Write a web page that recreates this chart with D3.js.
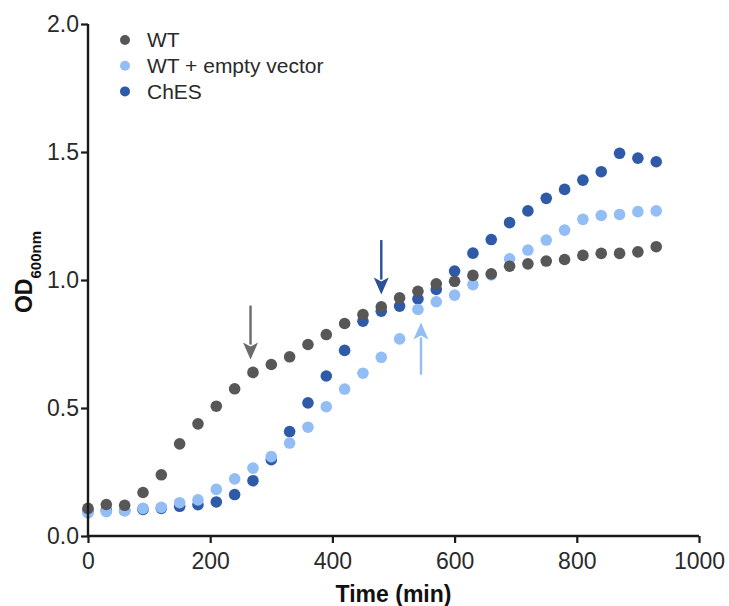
<!DOCTYPE html>
<html>
<head>
<meta charset="utf-8">
<script src="https://cdn.jsdelivr.net/npm/d3@7"></script>
<style>
  body { margin: 0; background: #fff; }
  text { font-family: "Liberation Sans", Arial, sans-serif; }
</style>
</head>
<body>
<div id="growth-chart"></div>
<script>
// sampling times (min), one reading every 30 min
const times = [0, 30, 60, 90, 120, 150, 180, 210, 240, 270, 300, 330, 360, 390, 420, 450,
    480, 510, 540, 570, 600, 630, 660, 690, 720, 750, 780, 810, 840, 870, 900, 930];

const wtValues = [0.108, 0.123, 0.120, 0.170, 0.239, 0.360, 0.438, 0.507, 0.575, 0.639, 0.670,
    0.700, 0.748, 0.787, 0.830, 0.865, 0.895, 0.930, 0.956, 0.985, 0.995, 1.018, 1.024, 1.054,
    1.063, 1.074, 1.080, 1.096, 1.104, 1.104, 1.110, 1.130];

const emptyVectorValues = [0.090, 0.095, 0.098, 0.108, 0.112, 0.130, 0.141, 0.182, 0.223, 0.265,
    0.310, 0.363, 0.425, 0.505, 0.574, 0.636, 0.698, 0.770, 0.885, 0.915, 0.941, 0.982, 1.020,
    1.083, 1.117, 1.156, 1.195, 1.237, 1.252, 1.256, 1.267, 1.270];

const chesValues = [0.098, 0.100, 0.100, 0.104, 0.108, 0.116, 0.122, 0.133, 0.162, 0.216, 0.298,
    0.408, 0.520, 0.625, 0.725, 0.839, 0.878, 0.898, 0.926, 0.963, 1.035, 1.105, 1.158, 1.224,
    1.270, 1.319, 1.354, 1.390, 1.423, 1.495, 1.476, 1.462];

const seriesNames = ["WT", "WT + empty vector", "ChES"];
const seriesColors = ["#575757", "#92bdf5", "#2f5aa8"];

// arrows: colour, time, start OD, tip OD
const arrowColors = ["#6b6b6b", "#2c4f96", "#92bdf5"];
const arrowTimes = [266, 480, 545];
const arrowFrom = [0.90, 1.156, 0.630];
const arrowTo = [0.689, 0.943, 0.834];

const xTicks = [0, 200, 400, 600, 800, 1000];
const yTicks = [0.0, 0.5, 1.0, 1.5, 2.0];

const drawGrowth = (divId) => {
    const margin = {top: 24, right: 30, bottom: 70, left: 88},
        width = 729 - margin.left - margin.right,
        height = 606 - margin.top - margin.bottom;

    const svg = d3.select(divId)
        .append("svg")
            .attr("width", 729)
            .attr("height", 606);

    const g = svg.append("g")
        .attr("transform", `translate(${margin.left},${margin.top})`);

    const x = d3.scaleLinear().domain([0, 1000]).range([0, width]);
    const y = d3.scaleLinear().domain([0, 2]).range([height, 0]);

    const series = [wtValues, emptyVectorValues, chesValues].map((vals, i) => ({
        name: seriesNames[i],
        color: seriesColors[i],
        points: vals.map((v, j) => ({t: times[j], od: v}))
    }));

    // draw ChES first, WT on top
    g.selectAll(".series")
        .data([series[2], series[1], series[0]])
        .join("g")
            .attr("class", "series")
            .attr("fill", d => d.color)
        .selectAll("circle")
        .data(d => d.points)
        .join("circle")
            .attr("cx", d => x(d.t))
            .attr("cy", d => y(d.od))
            .attr("r", 5.8);

    // axes
    const xAxis = g.append("g")
        .attr("transform", `translate(0,${height})`)
        .call(d3.axisBottom(x).tickValues(xTicks).tickSize(7).tickPadding(10).tickFormat(d3.format("d")));

    const yAxis = g.append("g")
        .call(d3.axisLeft(y).tickValues(yTicks).tickSize(7).tickPadding(2).tickFormat(d3.format(".1f")));

    [xAxis, yAxis].forEach(a => {
        a.select(".domain").attr("stroke", "#1a1a1a").attr("stroke-width", 2.4);
        a.selectAll(".tick line").attr("stroke", "#1a1a1a").attr("stroke-width", 2.2);
        a.selectAll(".tick text")
            .attr("fill", "#2a2a2a")
            .style("font-family", "Liberation Sans, Arial, sans-serif")
            .style("font-size", "23px");
    });
    xAxis.select(".domain").attr("d", `M0,0H${width}`);
    yAxis.select(".domain").attr("d", `M0,${height}V0`);

    // arrows
    const arrowData = arrowTimes.map((t, i) => ({
        t: t, from: arrowFrom[i], to: arrowTo[i], color: arrowColors[i]
    }));
    const headLen = 17, headHalf = 7.5;

    g.selectAll(".arrow-shaft")
        .data(arrowData)
        .join("line")
            .attr("class", "arrow-shaft")
            .attr("x1", d => x(d.t))
            .attr("x2", d => x(d.t))
            .attr("y1", d => y(d.from))
            .attr("y2", d => y(d.to) + (d.to < d.from ? -headLen + 2 : headLen - 2))
            .attr("stroke", d => d.color)
            .attr("stroke-width", 2.4);

    g.selectAll(".arrow-head")
        .data(arrowData)
        .join("path")
            .attr("class", "arrow-head")
            .attr("d", d => {
                const tx = x(d.t), ty = y(d.to);
                const dir = d.to < d.from ? -1 : 1;
                return `M${tx},${ty}L${tx - headHalf},${ty + dir * headLen}L${tx},${ty + dir * (headLen - 4)}L${tx + headHalf},${ty + dir * headLen}Z`;
            })
            .attr("fill", d => d.color);

    // legend
    const legend = g.selectAll(".legend-item")
        .data(series)
        .join("g")
            .attr("class", "legend-item")
            .attr("transform", (d, i) => `translate(${125 - margin.left},${40 - margin.top + i * 25.7})`);

    legend.append("circle")
        .attr("r", 5)
        .attr("fill", d => d.color);

    legend.append("text")
        .attr("x", 22)
        .attr("dy", "0.35em")
        .style("font-size", "21px")
        .style("fill", "#2a2a2a")
        .text(d => d.name);

    // axis titles
    svg.append("text")
        .attr("x", margin.left + width / 2)
        .attr("y", 602)
        .style("text-anchor", "middle")
        .style("font-size", "23px")
        .style("font-weight", 700)
        .style("fill", "#111")
        .text("Time (min)");

    const yTitle = svg.append("text")
        .attr("transform", "translate(32,272) rotate(-90)")
        .style("text-anchor", "middle")
        .style("font-weight", 700)
        .style("fill", "#111");
    yTitle.append("tspan")
        .style("font-size", "23px")
        .text("OD");
    yTitle.append("tspan")
        .attr("dy", 9)
        .style("font-size", "15px")
        .text("600nm");
}

drawGrowth("#growth-chart");
</script>
</body>
</html>
